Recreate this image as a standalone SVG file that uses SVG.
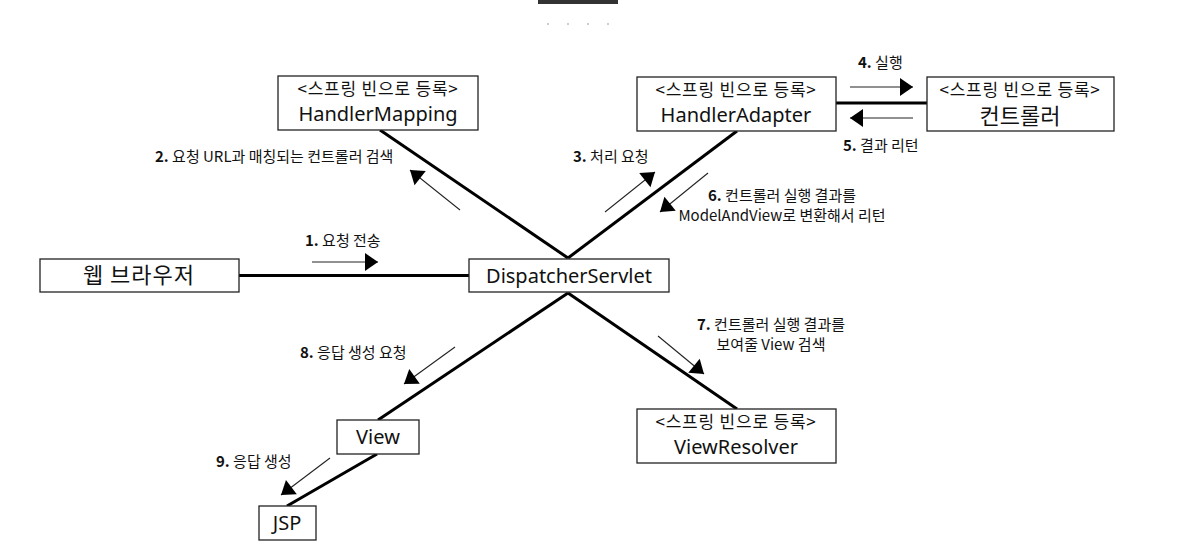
<svg xmlns="http://www.w3.org/2000/svg" width="1185" height="555" viewBox="0 0 1185 555">
<style>
.box{fill:#fff;stroke:#222;stroke-width:1.3}
.t{font-family:"Noto Sans CJK KR","Noto Sans",sans-serif;fill:#111;text-anchor:middle}
.s{font-size:17px;letter-spacing:0.8px}
.m{font-size:20px;font-family:"Noto Sans","Noto Sans CJK KR",sans-serif}
.big{font-size:22px}
.wb{letter-spacing:1px}
.lbl{font-family:"Noto Sans CJK KR","Noto Sans",sans-serif;font-size:15px;fill:#111}
.b{font-weight:bold}
.thick{stroke:#000;stroke-width:3;fill:none}
.thin{stroke:#222;stroke-width:1.1;fill:none;marker-end:url(#ah)}
</style>
<defs>
<marker id="ah" markerUnits="userSpaceOnUse" markerWidth="16" markerHeight="20" viewBox="0 -10 14 20" refX="13" refY="0" orient="auto">
<path d="M0,-9 L13,0 L0,9 z" fill="#000"/>
</marker>
</defs>
<rect width="1185" height="555" fill="#fff"/>
<rect x="538" y="0" width="80" height="4" fill="#333"/>
<g fill="#ccc"><rect x="547" y="23" width="2" height="2"/><rect x="567" y="23" width="2" height="2"/><rect x="587" y="23" width="2" height="2"/><rect x="607" y="23" width="2" height="2"/></g>

<g id="connectors">
<line class="thick" x1="239" y1="275.5" x2="469" y2="275.5"/>
<line class="thick" x1="380" y1="130" x2="568" y2="258"/>
<line class="thick" x1="737" y1="131" x2="568" y2="258"/>
<line class="thick" x1="836" y1="103" x2="927" y2="103"/>
<line class="thick" x1="568" y1="293" x2="737" y2="409"/>
<line class="thick" x1="568" y1="293" x2="378" y2="420"/>
<line class="thick" x1="377" y1="454" x2="287" y2="506"/>
<line class="thin" x1="312" y1="262" x2="378" y2="262"/>
<line class="thin" x1="460" y1="210" x2="410" y2="170"/>
<line class="thin" x1="605" y1="212" x2="655" y2="172"/>
<line class="thin" x1="850" y1="87" x2="913" y2="87"/>
<line class="thin" x1="913" y1="118" x2="850" y2="118"/>
<line class="thin" x1="708" y1="173" x2="660" y2="212"/>
<line class="thin" x1="658" y1="336" x2="704" y2="374"/>
<line class="thin" x1="455" y1="347" x2="404" y2="384"/>
<line class="thin" x1="330" y1="458" x2="281" y2="495"/>
</g>

<g id="labels">
<text class="lbl" x="305" y="246"><tspan class="b">1.</tspan> 요청 전송</text>
<text class="lbl" x="155" y="162"><tspan class="b">2.</tspan> 요청 URL과 매칭되는 컨트롤러 검색</text>
<text class="lbl" x="573" y="162"><tspan class="b">3.</tspan> 처리 요청</text>
<text class="lbl" x="858" y="68"><tspan class="b">4.</tspan> 실행</text>
<text class="lbl" x="843" y="151"><tspan class="b">5.</tspan> 결과 리턴</text>
<text class="lbl" x="782" y="201" text-anchor="middle"><tspan class="b">6.</tspan> 컨트롤러 실행 결과를</text>
<text class="lbl" x="782" y="221" text-anchor="middle">ModelAndView로 변환해서 리턴</text>
<text class="lbl" x="771" y="330" text-anchor="middle"><tspan class="b">7.</tspan> 컨트롤러 실행 결과를</text>
<text class="lbl" x="771" y="350" text-anchor="middle">보여줄 View 검색</text>
<text class="lbl" x="300" y="358"><tspan class="b">8.</tspan> 응답 생성 요청</text>
<text class="lbl" x="216" y="467"><tspan class="b">9.</tspan> 응답 생성</text>
</g>

<g id="handlerMapping">
<rect class="box" x="278" y="76" width="200" height="54"/>
<text class="t s" x="378" y="95">&lt;스프링 빈으로 등록&gt;</text>
<text class="t m" x="378" y="121">HandlerMapping</text>
</g>
<g id="handlerAdapter">
<rect class="box" x="637" y="77" width="199" height="54"/>
<text class="t s" x="736" y="96">&lt;스프링 빈으로 등록&gt;</text>
<text class="t m" x="736" y="122">HandlerAdapter</text>
</g>
<g id="controller">
<rect class="box" x="927" y="77" width="187" height="54"/>
<text class="t s" x="1020" y="96">&lt;스프링 빈으로 등록&gt;</text>
<text class="t big" x="1020" y="124">컨트롤러</text>
</g>
<g id="webBrowser">
<rect class="box" x="40" y="259" width="199" height="33"/>
<text class="t big wb" x="139" y="283">웹 브라우저</text>
</g>
<g id="dispatcherServlet">
<rect class="box" x="469" y="259" width="200" height="33"/>
<text class="t m" x="569" y="283">DispatcherServlet</text>
</g>
<g id="viewResolver">
<rect class="box" x="637" y="409" width="199" height="54"/>
<text class="t s" x="736" y="428">&lt;스프링 빈으로 등록&gt;</text>
<text class="t m" x="736" y="454">ViewResolver</text>
</g>
<g id="view">
<rect class="box" x="337" y="420" width="82" height="34"/>
<text class="t m" x="378" y="444">View</text>
</g>
<g id="jsp">
<rect class="box" x="259" y="506" width="57" height="34"/>
<text class="t m" x="287" y="530">JSP</text>
</g>
</svg>
